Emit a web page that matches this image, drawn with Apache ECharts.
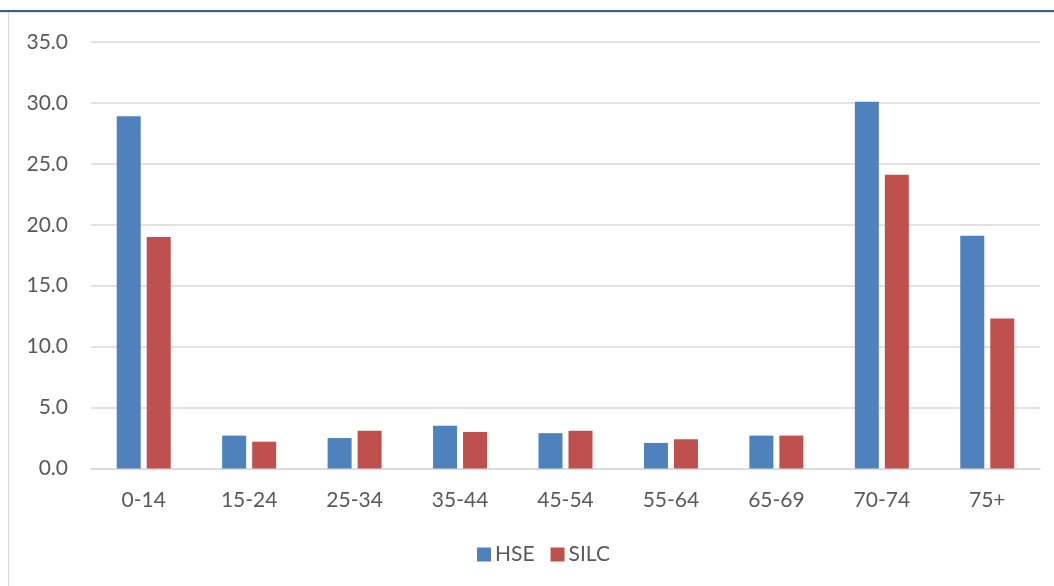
<!DOCTYPE html>
<html>
<head>
<meta charset="utf-8">
<script src="https://cdn.jsdelivr.net/npm/echarts@6/dist/echarts.min.js"></script>
<style>
  html, body { margin: 0; padding: 0; background: #fff; }
  #main { width: 1054px; height: 586px; }
</style>
</head>
<body>
<div id="main"></div>
<script>
  // age groups and values
  const ageGroups = ['0-14', '15-24', '25-34', '35-44', '45-54', '55-64', '65-69', '70-74', '75+']
  const hse = [28.9, 2.7, 2.5, 3.5, 2.9, 2.1, 2.7, 30.1, 19.1]
  const silc = [19.0, 2.2, 3.1, 3.0, 3.1, 2.4, 2.7, 24.1, 12.3]

  const font = 'Lato, "Open Sans", sans-serif'
  const chart = echarts.init(document.getElementById('main'))
  chart.setOption({
    animation: false,
    color: ['#4f81bd', '#c0504d'],
    graphic: [
      // frame around the figure
      { type: 'rect', shape: { x: 0, y: 10, width: 1054, height: 2 }, style: { fill: '#2f5f98' } },
      { type: 'rect', shape: { x: 0, y: 12, width: 1054, height: 1 }, style: { fill: '#e6e6e6' } },
      { type: 'rect', shape: { x: 8, y: 12, width: 1, height: 574 }, style: { fill: '#d9d9d9' } }
    ],
    grid: { left: 91, right: 14, top: 42, bottom: 117.5 },
    legend: {
      left: 472,
      top: 539,
      itemWidth: 14,
      itemHeight: 14,
      itemGap: 16,
      icon: 'rect',
      textStyle: { fontFamily: font, fontSize: 21, color: '#595959', padding: [0, 0, 0, -1] },
      data: ['HSE', 'SILC']
    },
    xAxis: {
      type: 'category',
      data: ageGroups,
      axisLine: { lineStyle: { color: '#d9d9d9', width: 1.5 } },
      axisTick: { show: false },
      axisLabel: { fontFamily: font, fontSize: 21, color: '#595959', margin: 21 }
    },
    yAxis: {
      type: 'value',
      min: 0,
      max: 35,
      interval: 5,
      axisLine: { show: false },
      axisTick: { show: false },
      splitLine: { lineStyle: { color: '#d9d9d9', width: 1.5 } },
      axisLabel: {
        fontFamily: font, fontSize: 21, color: '#595959', margin: 23,
        formatter: v => v.toFixed(1)
      }
    },
    series: [
      { name: 'HSE', type: 'bar', data: hse, barWidth: 24, barGap: '25%' },
      { name: 'SILC', type: 'bar', data: silc, barWidth: 24, barGap: '25%' }
    ]
  })
</script>
</body>
</html>
